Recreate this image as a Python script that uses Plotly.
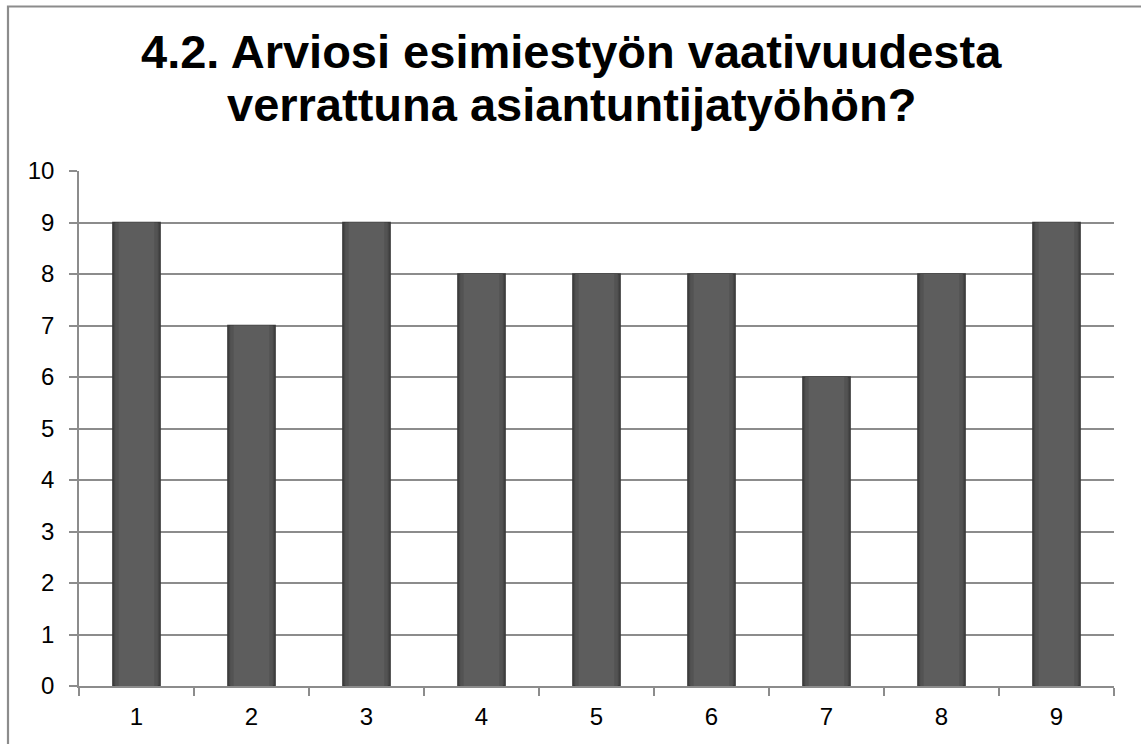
import plotly.graph_objects as go

categories = ["1", "2", "3", "4", "5", "6", "7", "8", "9"]
values = [9, 7, 9, 8, 8, 8, 6, 8, 9]
y_ticks = list(range(0, 11))
title_line1 = "4.2. Arviosi esimiestyön vaativuudesta"
title_line2 = "verrattuna asiantuntijatyöhön?"

W, H = 1141, 744
L, R, T, B = 79, 27, 171, 58
pw, ph = W - L - R, H - T - B

fig = go.Figure()
# layered bars to imitate the bevelled shading of the original
for w, col, lc, lw in [(0.41, "#474747", "#3a3a3a", 1.5), (0.37, "#535353", None, 0), (0.31, "#5d5d5d", None, 0)]:
    fig.add_trace(go.Bar(
        x=categories, y=values, width=w,
        marker=dict(color=col, line=dict(color=lc or col, width=lw)),
        hoverinfo="skip" if w != 0.41 else None,
    ))

def px_to_paper_x(px):
    return (px - L) / pw

def px_to_paper_y(py):
    return (H - B - py) / ph

fig.add_shape(type="rect", xref="paper", yref="paper",
              x0=px_to_paper_x(8), x1=px_to_paper_x(1170),
              y0=px_to_paper_y(780), y1=px_to_paper_y(6.5),
              line=dict(color="#8c8c8c", width=2.2), fillcolor="rgba(0,0,0,0)", layer="below")

title_font = dict(family="Liberation Sans, Arial", size=47, color="black", weight="bold")
for txt, yc in [(title_line1, 52), (title_line2, 105)]:
    fig.add_annotation(text=txt, xref="paper", yref="paper", x=px_to_paper_x(571), y=px_to_paper_y(yc),
                       xanchor="center", yanchor="middle", showarrow=False, font=title_font)

fig.update_layout(
    width=W, height=H,
    margin=dict(l=L, r=R, t=T, b=B, pad=0),
    paper_bgcolor="white", plot_bgcolor="white",
    font=dict(family="Liberation Sans, Arial", size=24, color="black"),
    showlegend=False,
    barmode="overlay",
    bargap=0.59,
)
fig.update_yaxes(range=[0, 10], tickvals=y_ticks, showgrid=True, gridcolor="#8c8c8c", gridwidth=1.5,
                 showline=True, linecolor="#8c8c8c", linewidth=1.5, ticks="outside", ticklen=8,
                 tickcolor="#8c8c8c", tickwidth=1.5, zeroline=False, tickfont=dict(size=24),
                 ticklabelstandoff=10)
fig.update_xaxes(showline=True, linecolor="#8c8c8c", linewidth=1.5, ticks="outside", ticklen=8,
                 tickcolor="#8c8c8c", tickwidth=1.5, tickson="boundaries", showgrid=False,
                 tickfont=dict(size=24), ticklabelstandoff=8)

fig.write_html("out.html", config={"displayModeBar": False},
               post_script="document.body.style.margin='0px';")
